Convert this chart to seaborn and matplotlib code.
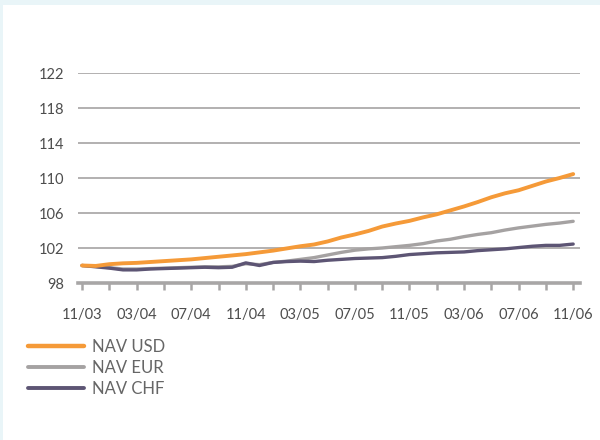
import numpy as np
import pandas as pd
import matplotlib
matplotlib.use("Agg")
import matplotlib.pyplot as plt
import seaborn as sns
from matplotlib.patches import Rectangle
from matplotlib.ticker import MultipleLocator

# Monthly index, 11/03 .. 11/06 (37 months)
months = list(range(37))
tick_labels = ["11/03", "03/04", "07/04", "11/04", "03/05", "07/05",
               "11/05", "03/06", "07/06", "11/06"]

nav_usd = [100.0, 99.95, 100.15, 100.25, 100.3, 100.4, 100.5, 100.6, 100.7,
           100.85, 101.0, 101.15, 101.3, 101.5, 101.7, 101.95, 102.2, 102.4,
           102.75, 103.2, 103.55, 103.95, 104.45, 104.8, 105.1, 105.5, 105.85,
           106.3, 106.75, 107.25, 107.8, 108.25, 108.6, 109.1, 109.6, 110.0,
           110.45]
nav_eur = [100.0, 99.9, 99.75, 99.6, 99.6, 99.65, 99.7, 99.75, 99.8, 99.85,
           99.85, 99.9, 100.2, 100.1, 100.35, 100.5, 100.7, 100.9, 101.2,
           101.5, 101.75, 101.9, 102.0, 102.15, 102.3, 102.5, 102.8, 103.0,
           103.3, 103.55, 103.75, 104.05, 104.3, 104.5, 104.7, 104.85, 105.05]
nav_chf = [100.0, 99.85, 99.7, 99.5, 99.5, 99.6, 99.65, 99.7, 99.75, 99.8,
           99.75, 99.8, 100.3, 100.0, 100.35, 100.45, 100.5, 100.45, 100.6,
           100.7, 100.8, 100.85, 100.9, 101.05, 101.25, 101.35, 101.45, 101.5,
           101.55, 101.7, 101.8, 101.9, 102.05, 102.2, 102.3, 102.3, 102.45]

series_names = ["NAV USD", "NAV EUR", "NAV CHF"]
colors = {"NAV USD": "#f59a38", "NAV EUR": "#a5a2a2", "NAV CHF": "#5d5574"}
widths = {"NAV USD": 2.8, "NAV EUR": 2.4, "NAV CHF": 2.4}

df = pd.DataFrame({
    "month": months * 3,
    "value": nav_usd + nav_eur + nav_chf,
    "series": ["NAV USD"] * 37 + ["NAV EUR"] * 37 + ["NAV CHF"] * 37,
})

sns.set_style("white")
plt.rcParams["font.family"] = ["Lato", "DejaVu Sans"]

fig = plt.figure(figsize=(6, 4.4), dpi=100, facecolor="#e9f5f8")
bg = Rectangle((3 / 600, 0), 1, (440 - 5) / 440, transform=fig.transFigure,
               facecolor="white", edgecolor="none")
bg.set_zorder(-10)
fig.add_artist(bg)

ax = fig.add_axes([78 / 600, (440 - 283) / 440, (580 - 78) / 600, (283 - 73) / 440])
ax.set_facecolor("none")
ax.set_zorder(1)

# draw order: EUR, CHF, then USD on top
for name in ["NAV EUR", "NAV CHF", "NAV USD"]:
    sub = df[df["series"] == name]
    sns.lineplot(data=sub, x="month", y="value", ax=ax, color=colors[name],
                 linewidth=widths[name], legend=False,
                 zorder=3 if name == "NAV USD" else 2)

ax.set_xlim(-0.3, 36.5)
ax.set_ylim(98, 122)
ax.set_yticks(np.arange(98, 123, 4))
ax.yaxis.grid(True, color="#b2b0b0", linewidth=1.4)
ax.xaxis.grid(False)
ax.set_axisbelow(True)
for s in ["top", "right", "left"]:
    ax.spines[s].set_visible(False)
ax.spines["bottom"].set_color("#a8a6a6")
ax.spines["bottom"].set_linewidth(2.6)

ax.set_xticks(np.arange(0, 37, 4))
ax.set_xticklabels(tick_labels)
ax.xaxis.set_minor_locator(MultipleLocator(2))
ax.tick_params(axis="x", which="both", bottom=True, length=5, width=1.8,
               color="#a8a6a6", direction="out")
ax.tick_params(axis="x", which="major", pad=13, labelsize=10.5,
               labelcolor="#4d4d4d")
ax.tick_params(axis="y", length=0, pad=10, labelsize=10.5, labelcolor="#4d4d4d")
ax.set_xlabel("")
ax.set_ylabel("")

handles = [plt.Line2D([], [], color=colors[n], linewidth=widths[n] + 0.4)
           for n in series_names]
fig.legend(handles, series_names, loc="upper left",
           bbox_to_anchor=(21 / 600, 1 - 332 / 440), frameon=False,
           fontsize=12, labelcolor="#666666", handlelength=3.4,
           handletextpad=0.45, labelspacing=0.3, borderaxespad=0)

fig.savefig("out.png", dpi=100, facecolor=fig.get_facecolor())
